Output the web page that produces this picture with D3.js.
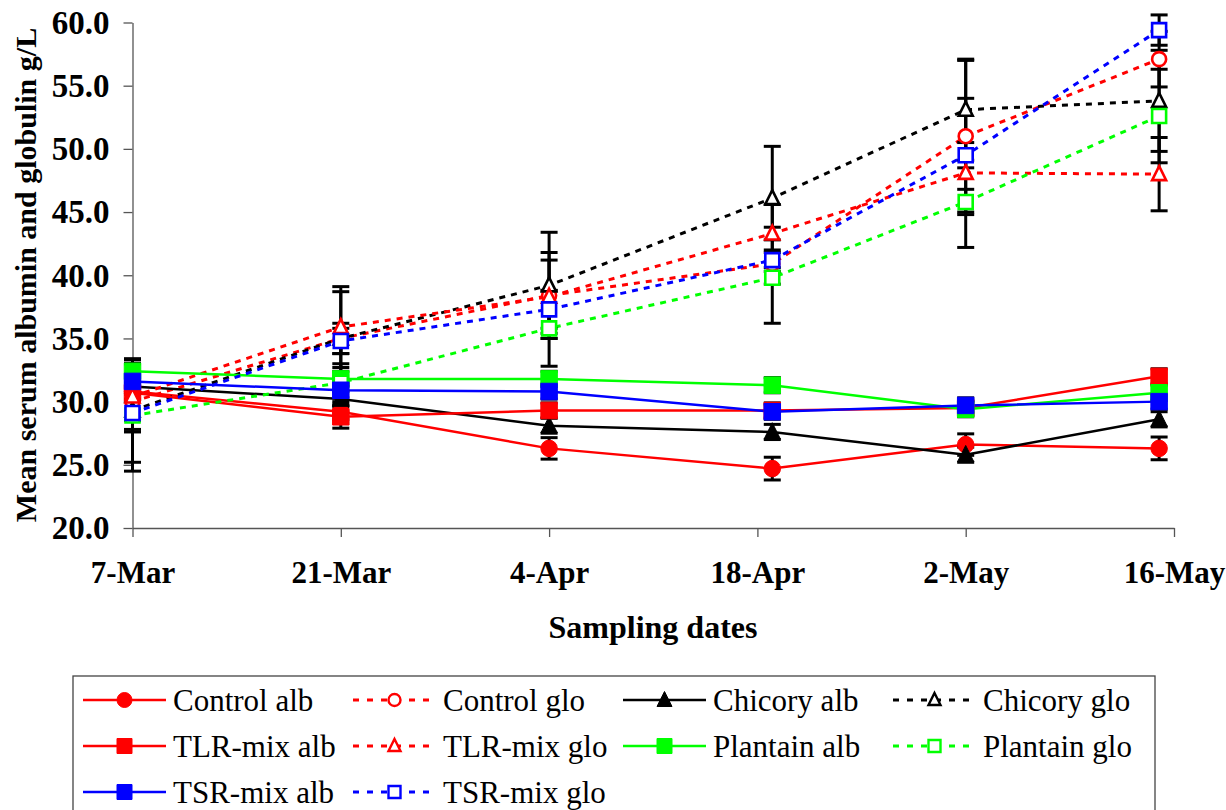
<!DOCTYPE html>
<html>
<head>
<meta charset="utf-8">
<script src="https://cdn.jsdelivr.net/npm/d3@7"></script>
<style>
  body { margin: 0; background: #fff; }
  svg { display: block; }
  text { font-family: "Liberation Serif", "Times New Roman", serif; fill: #000; }
</style>
</head>
<body>
<div id="chart"></div>
<script>
// sampling dates (year not shown on the chart)
var sampleDates = ["7-Mar", "21-Mar", "4-Apr", "19-Apr", "2-May", "15-May"];
var tickDates = ["7-Mar", "21-Mar", "4-Apr", "18-Apr", "2-May", "16-May"];
var yTicks = [20, 25, 30, 35, 40, 45, 50, 55, 60];

// means and error bars, g/L
var controlAlb = [30.8, 29.2, 26.3, 24.7, 26.6, 26.3];
var controlAlbErr = [0.6, 0.6, 0.85, 0.9, 0.85, 0.9];
var controlGlo = [30.0, 35.0, 38.4, 40.9, 51.0, 57.1];
var controlGloErr = [1.5, 1.2, 3.4, 4.7, 6.0, 2.2];
var chicoryAlb = [31.2, 30.2, 28.1, 27.6, 25.8, 28.6];
var chicoryAlbErr = [0.6, 0.6, 0.6, 0.6, 0.6, 0.6];
var chicoryGlo = [29.3, 35.0, 39.2, 46.1, 53.1, 53.8];
var chicoryGloErr = [4.1, 3.7, 4.2, 4.1, 4.0, 4.0];
var tlrAlb = [30.7, 28.8, 29.3, 29.3, 29.5, 32.0];
var tlrAlbErr = [0.6, 0.9, 0.6, 0.6, 0.6, 0.6];
var tlrGlo = [30.4, 35.9, 38.3, 43.3, 48.1, 48.0];
var tlrGloErr = [2.6, 3.2, 2.9, 0.5, 5.9, 2.9];
var plantainAlb = [32.4, 31.8, 31.8, 31.3, 29.4, 30.7];
var plantainAlbErr = [0.6, 0.6, 0.6, 0.6, 0.6, 0.6];
var plantainGlo = [28.9, 31.5, 35.8, 39.8, 45.8, 52.6];
var plantainGloErr = [4.4, 1.5, 3.0, 0.5, 1.0, 3.7];
var tsrAlb = [31.6, 30.9, 30.8, 29.2, 29.7, 30.0];
var tsrAlbErr = [0.6, 0.6, 0.6, 0.6, 0.6, 0.6];
var tsrGlo = [29.1, 34.8, 37.3, 41.2, 49.5, 59.4];
var tsrGloErr = [1.5, 1.0, 1.5, 0.6, 1.0, 1.2];

var series = [
  {name: "Control alb", values: controlAlb, err: controlAlbErr, color: "#ff0000", dash: false, shape: "circle", open: false},
  {name: "Control glo", values: controlGlo, err: controlGloErr, color: "#ff0000", dash: true, shape: "circle", open: true},
  {name: "Chicory alb", values: chicoryAlb, err: chicoryAlbErr, color: "#000000", dash: false, shape: "triangle", open: false},
  {name: "Chicory glo", values: chicoryGlo, err: chicoryGloErr, color: "#000000", dash: true, shape: "triangle", open: true},
  {name: "TLR-mix alb", values: tlrAlb, err: tlrAlbErr, color: "#ff0000", dash: false, shape: "square", open: false},
  {name: "TLR-mix glo", values: tlrGlo, err: tlrGloErr, color: "#ff0000", dash: true, shape: "triangle", open: true},
  {name: "Plantain alb", values: plantainAlb, err: plantainAlbErr, color: "#00ff00", dash: false, shape: "square", open: false},
  {name: "Plantain glo", values: plantainGlo, err: plantainGloErr, color: "#00ff00", dash: true, shape: "square", open: true},
  {name: "TSR-mix alb", values: tsrAlb, err: tsrAlbErr, color: "#0000ff", dash: false, shape: "square", open: false},
  {name: "TSR-mix glo", values: tsrGlo, err: tsrGloErr, color: "#0000ff", dash: true, shape: "square", open: true}
];

var parseDate = d3.timeParse("%d-%b-%Y");
var fmtDate = d3.timeFormat("%-d-%b");

var width = 1226, height = 810;
var margin = {top: 22.5, right: 52, bottom: 282, left: 132.5};

var svg = d3.select("#chart").append("svg")
    .attr("width", width)
    .attr("height", height);

var x = d3.scaleTime()
    .domain([parseDate("7-Mar-2007"), parseDate("16-May-2007")])
    .range([margin.left, width - margin.right]);

var y = d3.scaleLinear()
    .domain([20, 60])
    .range([height - margin.bottom, margin.top]);

// axes
var xAxis = svg.append("g")
    .attr("transform", "translate(0," + (height - margin.bottom) + ")")
    .call(d3.axisBottom(x)
      .tickValues(tickDates.map(function(d) { return parseDate(d + "-2007"); }))
      .tickFormat(fmtDate)
      .tickSize(9)
      .tickSizeOuter(0));
xAxis.select(".domain").attr("stroke", "#555").attr("stroke-width", 1.3);
xAxis.selectAll(".tick line").attr("stroke", "#555").attr("stroke-width", 1.3);
xAxis.selectAll(".tick text")
    .attr("y", 55)
    .attr("dy", 0)
    .style("font-size", "31px")
    .style("font-weight", "bold")
    .style("font-family", "'Liberation Serif', serif");

var yAxis = svg.append("g")
    .attr("transform", "translate(" + margin.left + ",0)")
    .call(d3.axisLeft(y)
      .tickValues(yTicks)
      .tickFormat(d3.format(".1f"))
      .tickSize(9)
      .tickSizeOuter(0));
yAxis.select(".domain").attr("stroke", "#555").attr("stroke-width", 1.3);
yAxis.selectAll(".tick line").attr("stroke", "#555").attr("stroke-width", 1.3);
yAxis.selectAll(".tick text")
    .attr("x", -23)
    .attr("dy", "0.33em")
    .style("font-size", "33px")
    .style("font-weight", "bold")
    .style("font-family", "'Liberation Serif', serif");

svg.append("text")
    .attr("x", 653)
    .attr("y", 638)
    .attr("text-anchor", "middle")
    .style("font-size", "32px")
    .style("font-weight", "bold")
    .text("Sampling dates");

svg.append("text")
    .attr("transform", "translate(36,275) rotate(-90)")
    .attr("text-anchor", "middle")
    .style("font-size", "30px")
    .style("font-weight", "bold")
    .text("Mean serum albumin and globulin g/L");

// marker shapes
function markerPath(shape, s) {
  if (shape == "square") {
    return "M" + (-s/2) + "," + (-s/2) + "h" + s + "v" + s + "h" + (-s) + "Z";
  }
  if (shape == "triangle") {
    return "M0," + (-s/2 - 1) + "L" + (s/2) + "," + (s/2 - 1) + "L" + (-s/2) + "," + (s/2 - 1) + "Z";
  }
  return d3.symbol(d3.symbolCircle, Math.PI * (s/2) * (s/2))();
}

var pts = function(s) {
  return s.values.map(function(v, i) {
    return {date: parseDate(sampleDates[i] + "-2007"), v: v, e: s.err[i]};
  });
};

var line = d3.line()
    .x(function(d) { return x(d.date); })
    .y(function(d) { return y(d.v); });

// lines
series.forEach(function(s) {
  svg.append("path")
    .datum(pts(s))
    .attr("d", line)
    .attr("fill", "none")
    .attr("stroke", s.color)
    .attr("stroke-width", s.dash ? 3 : 2.5)
    .attr("stroke-dasharray", s.dash ? "6,6" : null);
});

// error bars (all drawn in black)
series.forEach(function(s) {
  var g = svg.append("g");
  var p = pts(s);
  g.selectAll(".eb").data(p).enter().append("line")
    .attr("x1", function(d) { return x(d.date); })
    .attr("x2", function(d) { return x(d.date); })
    .attr("y1", function(d) { return y(d.v + d.e); })
    .attr("y2", function(d) { return y(d.v - d.e); })
    .attr("stroke", "#000").attr("stroke-width", 3);
  [1, -1].forEach(function(sign) {
    g.selectAll(".cap" + sign).data(p).enter().append("line")
      .attr("x1", function(d) { return x(d.date) - 8.5; })
      .attr("x2", function(d) { return x(d.date) + 8.5; })
      .attr("y1", function(d) { return y(d.v + sign * d.e); })
      .attr("y2", function(d) { return y(d.v + sign * d.e); })
      .attr("stroke", "#000").attr("stroke-width", 3);
  });
});

// markers
series.forEach(function(s) {
  svg.append("g").selectAll("path").data(pts(s)).enter().append("path")
    .attr("transform", function(d) { return "translate(" + x(d.date) + "," + y(d.v) + ")"; })
    .attr("d", markerPath(s.shape, s.open ? 14 : 16.5))
    .attr("fill", s.open ? "#fff" : s.color)
    .attr("stroke", s.color)
    .attr("stroke-width", s.open ? 2.6 : 1);
});

// legend
var legend = svg.append("g");
legend.append("rect")
    .attr("x", 73).attr("y", 676)
    .attr("width", 1082).attr("height", 160)
    .attr("fill", "none")
    .attr("stroke", "#444")
    .attr("stroke-width", 1.3);

var colX = [83, 353, 623, 893];
var rowY = [700, 746, 792];

series.forEach(function(s, i) {
  var cx = colX[i % 4], cy = rowY[Math.floor(i / 4)];
  var g = legend.append("g").attr("transform", "translate(" + cx + "," + cy + ")");
  g.append("line")
    .attr("x1", 0).attr("x2", 83)
    .attr("y1", 0).attr("y2", 0)
    .attr("stroke", s.color)
    .attr("stroke-width", s.dash ? 3 : 2.5)
    .attr("stroke-dasharray", s.dash ? "6,8" : null);
  g.append("path")
    .attr("transform", "translate(41.5,0)")
    .attr("d", markerPath(s.shape, s.open ? 12 : 15))
    .attr("fill", s.open ? "#fff" : s.color)
    .attr("stroke", s.color)
    .attr("stroke-width", s.open ? 2.4 : 1);
  g.append("text")
    .attr("x", 90)
    .attr("y", 10.5)
    .style("font-size", "31px")
    .text(s.name);
});
</script>
</body>
</html>
